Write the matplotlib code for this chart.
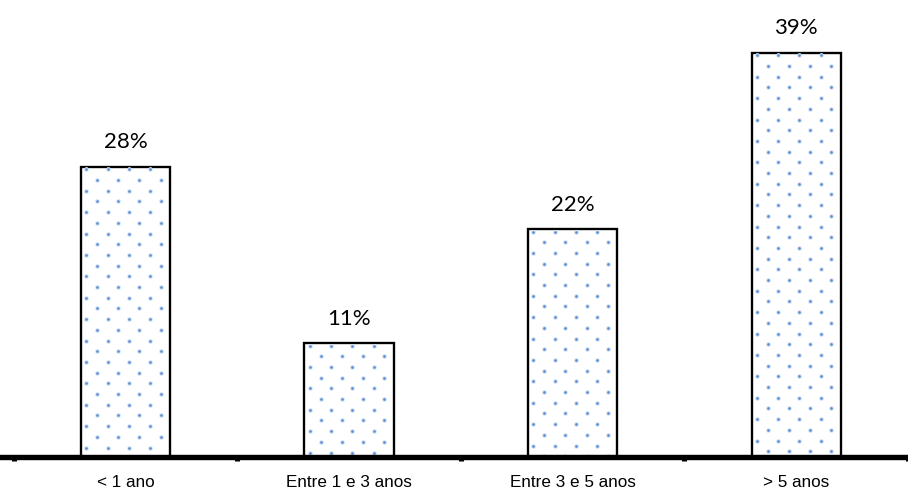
import matplotlib.pyplot as plt
import numpy as np

categorias = ["< 1 ano", "Entre 1 e 3 anos", "Entre 3 e 5 anos", "> 5 anos"]
percentuais = [28, 11, 22, 39]

dpi = 130
fig = plt.figure(figsize=(908 / dpi, 492 / dpi), dpi=dpi)
ax = fig.add_axes([0, 0.0711, 1, 0.9289])
ax.set_xlim(-0.562, 3.468)
ax.set_ylim(0, 44.1)

x = np.arange(len(categorias))
bars = ax.bar(x, percentuais, width=0.4, color='white', edgecolor='black',
              linewidth=1.3, zorder=2)

# textura pontilhada: grade em quincôncio (em pixels) presa ao canto superior esquerdo de cada barra
passo_x, passo_y = 21.4, 10.7
for b in bars:
    (x0, y0), (x1, y1) = ax.transData.transform([(b.get_x(), 0), (b.get_x() + b.get_width(), b.get_height())])
    pts = []
    for j, py in enumerate(np.arange(y1 - 2.5, y0, -passo_y)):
        desloc = 5.5 + (passo_x / 2 if j % 2 else 0)
        for px in np.arange(x0 + desloc, x1, passo_x):
            pts.append((px, py))
    dados = ax.transData.inverted().transform(np.array(pts))
    for tam, cor in [(7, '#d6e3f5'), (2.2, '#5b8fd6')]:
        sc = ax.scatter(dados[:, 0], dados[:, 1], s=tam, color=cor, linewidths=0, zorder=2.2)
        sc.set_clip_path(b)

for b, v in zip(bars, percentuais):
    ax.text(b.get_x() + b.get_width() / 2, v + 1.4, f"{v}%", ha='center', va='bottom',
            fontsize=12.3, family=['Lato', 'DejaVu Sans'])

for s in ['top', 'right', 'left']:
    ax.spines[s].set_visible(False)
ax.spines['bottom'].set_linewidth(3)
ax.spines['bottom'].set_zorder(3)
ax.set_yticks([])

ax.set_xticks(x)
ax.set_xticklabels(categorias, fontsize=9.5, family='Liberation Sans')
ax.tick_params(axis='x', which='major', length=0, pad=10)
ax.set_xticks(np.arange(-0.5, len(categorias)), minor=True)
ax.tick_params(axis='x', which='minor', length=2.2, width=2.8, direction='out')

fig.savefig('out.png', dpi=dpi)
